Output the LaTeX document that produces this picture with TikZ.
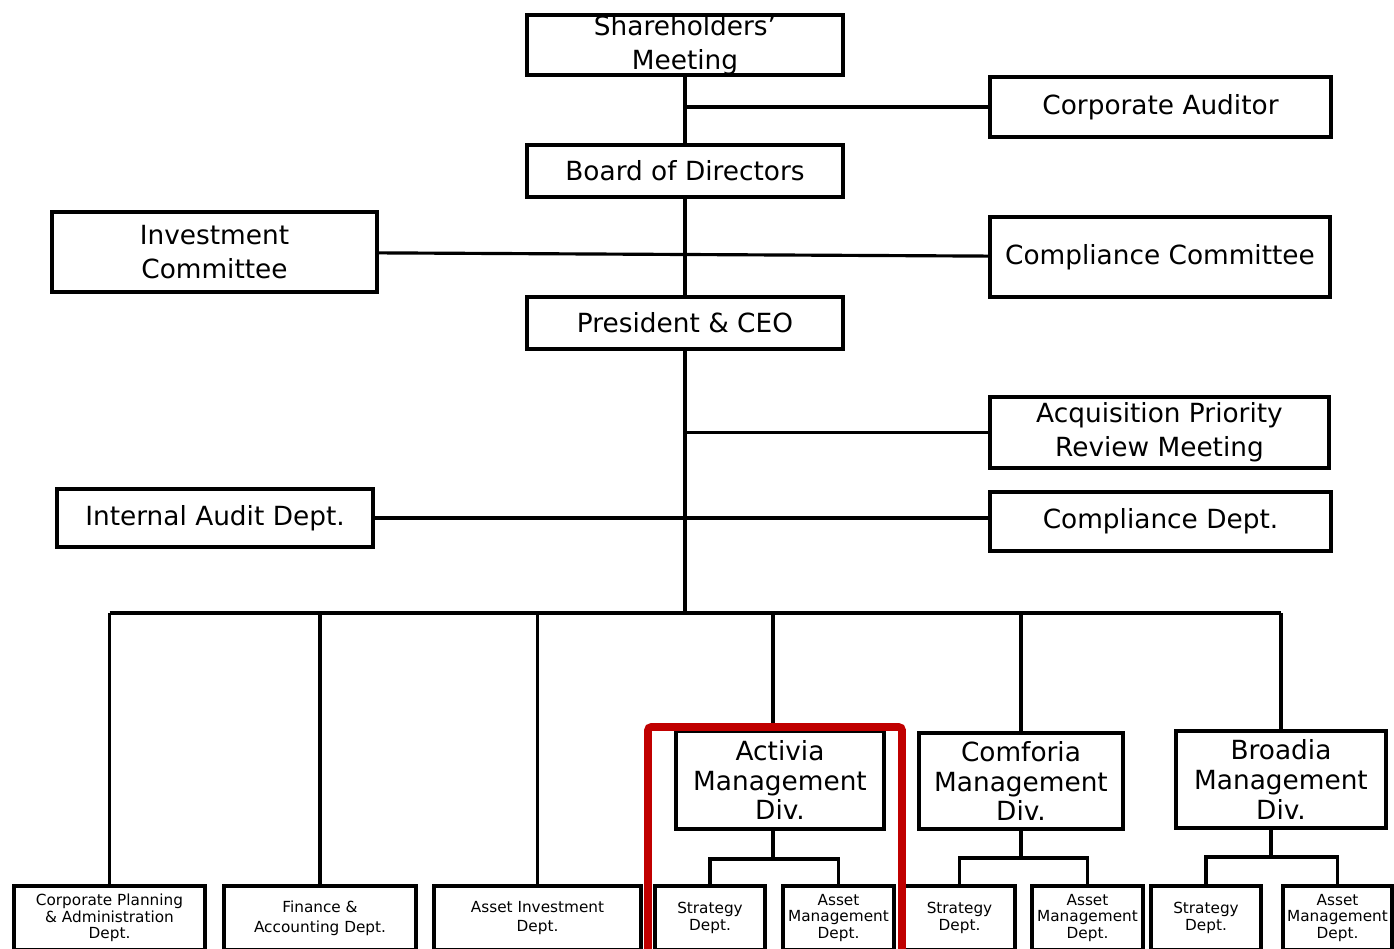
\documentclass[tikz,border=0pt]{standalone}
\usepackage{fontspec}
\setmainfont{DejaVu Sans}
\usetikzlibrary{calc}
\definecolor{focusred}{HTML}{C00000}

\tikzset{
  unit/.style={draw, line width=2.2pt, align=center, inner sep=0pt, font=\fontsize{15}{19.3}\selectfont},
  div/.style={unit, font=\fontsize{15}{17}\selectfont},
  dept/.style={unit, minimum height=1.28cm, font=\fontsize{8.7}{11.3}\selectfont},
  sub/.style={dept, font=\fontsize{8.7}{9.5}\selectfont},
  link/.style={line width=1.8pt},
  focus/.style={draw=focusred, line width=4.5pt, rounded corners=2pt}
}

\begin{document}
\begin{tikzpicture}[x=0.02cm, y=-0.02cm]
    \useasboundingbox (0,0) rectangle (1394,948);
    \clip (0,0) rectangle (1394,948);
    % governance
    \node[unit, minimum width=6.32cm, minimum height=1.2cm] (share) at (685,45) {Shareholders’\\Meeting};
    \node[unit, minimum width=6.82cm, minimum height=1.2cm] (auditor) at (1160.5,107) {Corporate Auditor};
    \node[unit, minimum width=6.32cm, minimum height=1.04cm] (board) at (685,171) {Board of Directors};
    \node[unit, minimum width=6.5cm, minimum height=1.6cm] (invest) at (214.5,252) {Investment\\Committee};
    \node[unit, minimum width=6.8cm, minimum height=1.6cm] (ccomm) at (1160,257) {Compliance Committee};
    \node[unit, minimum width=6.32cm, minimum height=1.04cm] (ceo) at (685,323) {President \& CEO};
    \node[unit, minimum width=6.78cm, minimum height=1.42cm] (apr) at (1159.5,432.5) {Acquisition Priority\\Review Meeting};
    \node[unit, minimum width=6.32cm, minimum height=1.16cm] (iad) at (215,518) {Internal Audit Dept.};
    \node[unit, minimum width=6.82cm, minimum height=1.18cm] (cdept) at (1160.5,521.5) {Compliance Dept.};
    % divisions
    \node[div, minimum width=4.16cm, minimum height=1.96cm] (activia) at (780,780) {Activia\\Management\\Div.};
    \node[div, minimum width=4.08cm, minimum height=1.92cm] (comforia) at (1021,781) {Comforia\\Management\\Div.};
    \node[div, minimum width=4.2cm, minimum height=1.94cm] (broadia) at (1281,779.5) {Broadia\\Management\\Div.};
    % departments
    \node[sub, minimum width=3.82cm] (corp) at (109.5,918) {Corporate Planning\\\& Administration\\Dept.};
    \node[dept, minimum width=3.84cm] (fin) at (320,918) {Finance \&\\Accounting Dept.};
    \node[dept, minimum width=4.14cm] (ainv) at (537.5,918) {Asset Investment\\Dept.};
    \node[sub, minimum width=2.2cm] (astr) at (710,918) {Strategy\\Dept.};
    \node[sub, minimum width=2.22cm] (aam) at (838.5,918) {Asset\\Management\\Dept.};
    \node[sub, minimum width=2.22cm] (cstr) at (959.5,918) {Strategy\\Dept.};
    \node[sub, minimum width=2.22cm] (cam) at (1087.5,918) {Asset\\Management\\Dept.};
    \node[sub, minimum width=2.2cm] (bstr) at (1206,918) {Strategy\\Dept.};
    \node[sub, minimum width=2.18cm] (bam) at (1337.5,918) {Asset\\Management\\Dept.};

    % trunk and side branches
    \coordinate (bus) at (685,613);
    \draw[link] (share) -- (board);
    \draw[link] (board) -- (ceo);
    \draw[link] (ceo) -- (bus);
    \draw[link] (auditor) -- (auditor -| share);
    \draw[link] (invest) -- (ccomm);
    \draw[link] (apr) -- (apr -| ceo);
    \draw[link] (iad) -- (iad -| cdept.west);

    % bus to departments and divisions
    \draw[link] (corp.north |- bus) -- (broadia.north |- bus);
    \foreach \n in {corp,fin,ainv,comforia,broadia}
      \draw[link] (\n.north |- bus) -- (\n.north);
    \draw[link] ([xshift=-0.14cm]activia.north |- bus) -- ([xshift=-0.14cm]activia.north);

    % divisions to their depts
    \draw[link] ([xshift=-0.14cm]activia.south) -- ++(0,28) coordinate (aj);
    \draw[link] (astr.north) |- (aj) -| (aam.north);
    \draw[link] (comforia.south) -- ++(0,27) coordinate (cj);
    \draw[link] (cstr.north) |- (cj) -| (cam.north);
    \draw[link] ([xshift=-0.2cm]broadia.south) -- ++(0,27) coordinate (bj);
    \draw[link] (bstr.north) |- (bj) -| (bam.north);

    % highlight
    \draw[focus] (648,960) -- (648,727) -- (902,727) -- (902,960);
\end{tikzpicture}
\end{document}
